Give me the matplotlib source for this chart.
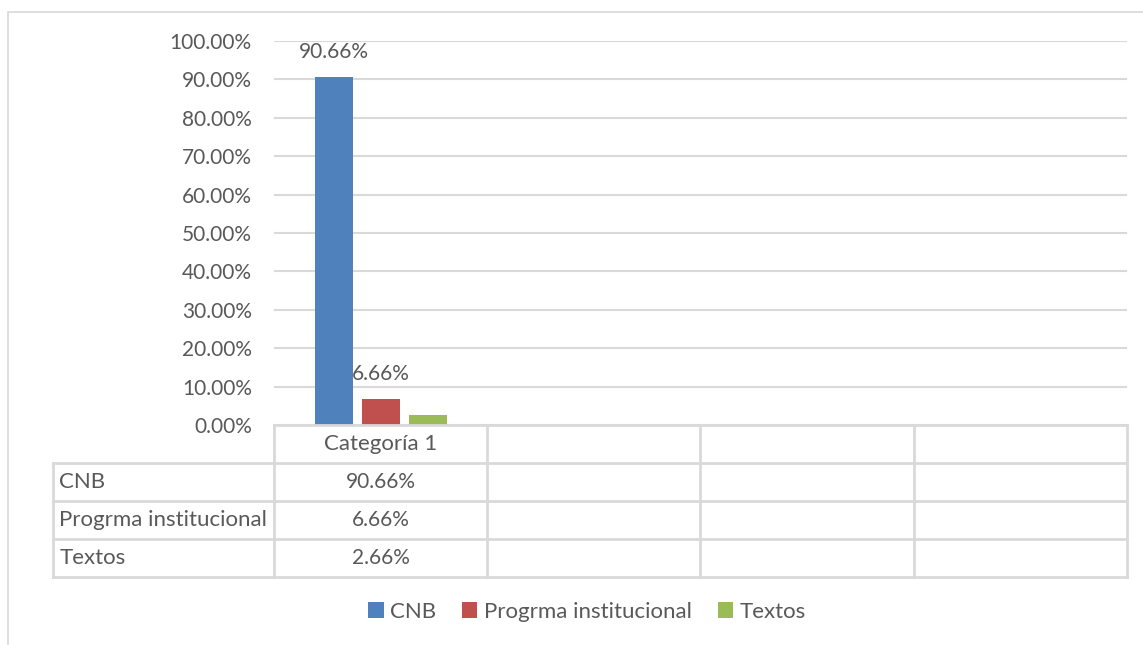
import numpy as np
import matplotlib.pyplot as plt
from matplotlib.patches import Rectangle

# datos
categorias = ["Categoría 1", "", "", ""]
series = ["CNB", "Progrma institucional", "Textos"]
valores = [[0.9066], [0.0666], [0.0266]]
etiquetas_tabla = [["90.66%"], ["6.66%"], ["2.66%"]]
etiquetas_barra = ["90.66%", "6.66%", None]
colores = ["#4f81bd", "#c0504d", "#9bbb59"]
yticks = np.arange(0, 1.01, 0.1)

W, H = 1143, 645
gris = "#595959"
linea = "#d9d9d9"
fs_num = 15
fs_txt = 16
plt.rcParams["font.family"] = ["Lato", "DejaVu Sans"]

fig = plt.figure(figsize=(W / 100, H / 100), dpi=100)

# borde del área del gráfico
fig.patches.append(Rectangle((8 / W, -0.2), 1.2, 1.2 - 12 / H, transform=fig.transFigure,
                             fill=False, edgecolor=linea, lw=1.2))

# área de trazado
x0, x1, y0, y1 = 274, 1127, 425, 41
ax = fig.add_axes([x0 / W, 1 - y0 / H, (x1 - x0) / W, (y0 - y1) / H])
ax.set_xlim(-0.5, len(categorias) - 0.5)
ax.set_ylim(0, 1)
ax.set_yticks(yticks)
ax.set_yticklabels([f"{v * 100:.2f}%" for v in yticks])
ax.tick_params(axis="y", length=0, pad=16, labelsize=fs_num, labelcolor=gris)
ax.set_xticks([])
for s in ax.spines.values():
    s.set_visible(False)
ax.grid(axis="y", color=linea, lw=1.5)
ax.set_axisbelow(True)

ancho = 0.178
paso = 0.22
for i, (nombre, vals) in enumerate(zip(series, valores)):
    xs = np.arange(len(vals)) + (i - 1) * paso
    ax.bar(xs, vals, width=ancho, color=colores[i], label=nombre)
    if etiquetas_barra[i]:
        ax.annotate(etiquetas_barra[i], (xs[0], vals[0]), xytext=(0, 11),
                    textcoords="offset points", ha="center", va="bottom",
                    fontsize=fs_num, color=gris)

# tabla de datos
t0 = 53
tab = fig.add_axes([t0 / W, 1 - 577 / H, (x1 - t0) / W, (577 - 425) / H])
izq = -0.5 - (x0 - t0) / ((x1 - x0) / len(categorias))
der = len(categorias) - 0.5
tab.set_xlim(izq, der)
tab.set_ylim(len(series) + 1, 0)
tab.axis("off")
kw = dict(color=linea, lw=2, clip_on=False)
tab.plot([-0.5, der], [0, 0], **kw)
for r in range(1, len(series) + 2):
    tab.plot([izq, der], [r, r], **kw)
tab.plot([izq, izq], [1, len(series) + 1], **kw)
for c in range(len(categorias) + 1):
    tab.plot([c - 0.5, c - 0.5], [0, len(series) + 1], **kw)
for c, cat in enumerate(categorias):
    tab.text(c, 0.5, cat, ha="center", va="center", fontsize=fs_txt, color=gris)
for r, nombre in enumerate(series):
    tab.text(izq + 0.03, r + 1.5, nombre, ha="left", va="center", fontsize=fs_txt, color=gris)
    for c, txt in enumerate(etiquetas_tabla[r]):
        tab.text(c, r + 1.5, txt, ha="center", va="center", fontsize=fs_num, color=gris)

# leyenda
fig.legend(*ax.get_legend_handles_labels(), loc="center", ncol=3,
           bbox_to_anchor=(587 / W, 1 - 612 / H), frameon=False,
           fontsize=fs_txt, labelcolor=gris, handlelength=0.7, handleheight=0.7,
           handletextpad=0.3, columnspacing=1.15)

fig.savefig("out.png", dpi=100)
